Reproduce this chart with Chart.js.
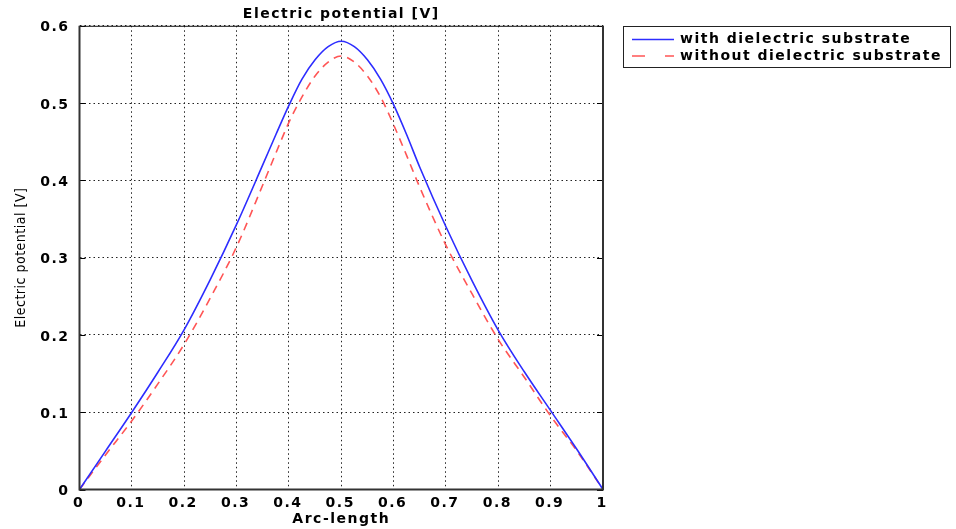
<!DOCTYPE html>
<html lang="en">

<head>
    <meta charset="UTF-8">
    <title>Electric potential</title>
    <style>
        body { margin: 0; background: #fff; overflow: hidden; }
    </style>
</head>

<body>
    <div style="width: 956px; height: 529px;">
        <canvas id="myChart"></canvas>
    </div>

    <script src="https://cdn.jsdelivr.net/npm/chart.js"></script>
    <script>
        // arc-length positions and the two potential curves [V]
        const arcLength = [0, 0.05, 0.1, 0.15, 0.2, 0.25, 0.3, 0.35, 0.375, 0.4, 0.425, 0.45, 0.475, 0.5,
            0.525, 0.55, 0.575, 0.6, 0.625, 0.65, 0.7, 0.75, 0.8, 0.85, 0.9, 0.95, 1];
        const withSubstrate = [0, 0.05, 0.1, 0.152, 0.207, 0.272, 0.343, 0.42, 0.459, 0.497, 0.531, 0.556, 0.573, 0.58,
            0.573, 0.556, 0.531, 0.498, 0.459, 0.417, 0.34, 0.27, 0.206, 0.152, 0.102, 0.052, 0];
        const withoutSubstrate = [0, 0.045, 0.089, 0.137, 0.188, 0.248, 0.314, 0.394, 0.435, 0.475, 0.508, 0.535, 0.553, 0.561,
            0.553, 0.535, 0.508, 0.472, 0.432, 0.391, 0.316, 0.253, 0.194, 0.145, 0.095, 0.05, 0];

        const seriesLabels = ["with dielectric substrate", "without dielectric substrate"];
        const chartTitle = "Electric potential [V]";
        const yTitle = "Electric potential [V]";
        const xTitle = "Arc-length";

        function toPoints(ys) {
            let pts = [];
            for (let i = 0; i < arcLength.length; i++) {
                pts.push({ x: arcLength[i], y: ys[i] });
            }
            return pts;
        }

        const boldFont = { family: "'DejaVu Sans', sans-serif", size: 14, weight: 'bold' };

        // wide spaced text like the original, plus frame, y title and legend box
        const decor = {
            id: 'decor',
            beforeDraw(chart) {
                chart.ctx.letterSpacing = '1.5px';
            },
            afterDraw(chart) {
                const ctx = chart.ctx;
                const a = chart.chartArea;
                const yScale = chart.scales.y;
                ctx.save();

                // small solid ticks inside left/right border
                ctx.strokeStyle = '#000';
                ctx.lineWidth = 1;
                yScale.ticks.forEach(t => {
                    const py = Math.round(yScale.getPixelForValue(t.value)) + 0.5;
                    ctx.beginPath();
                    ctx.moveTo(a.left, py); ctx.lineTo(a.left + 6, py);
                    ctx.moveTo(a.right - 6, py); ctx.lineTo(a.right, py);
                    ctx.stroke();
                });

                // frame
                ctx.strokeStyle = '#111';
                ctx.lineWidth = 1;
                ctx.beginPath();
                ctx.moveTo(a.left, a.top + 0.5); ctx.lineTo(a.right, a.top + 0.5);
                ctx.stroke();
                ctx.strokeStyle = '#333';
                ctx.lineWidth = 2;
                ctx.beginPath();
                ctx.moveTo(a.left, a.top); ctx.lineTo(a.left, a.bottom);
                ctx.lineTo(a.right, a.bottom); ctx.lineTo(a.right, a.top);
                ctx.stroke();

                // y axis title
                ctx.save();
                ctx.translate(21, (a.top + a.bottom) / 2);
                ctx.rotate(-Math.PI / 2);
                ctx.letterSpacing = '0.5px';
                ctx.font = "14px 'DejaVu Sans Condensed', 'DejaVu Sans', sans-serif";
                ctx.fillStyle = '#000';
                ctx.textAlign = 'center';
                ctx.textBaseline = 'middle';
                ctx.fillText(yTitle, 0, 0);
                ctx.restore();

                // legend box
                ctx.strokeStyle = '#222';
                ctx.lineWidth = 1;
                ctx.strokeRect(623.5, 26.5, 327, 41);
                const rows = [39.5, 56];
                chart.data.datasets.forEach((ds, i) => {
                    ctx.strokeStyle = ds.borderColor;
                    ctx.lineWidth = 1.5;
                    ctx.setLineDash(i == 0 ? [] : [13, 20]);
                    ctx.beginPath();
                    ctx.moveTo(632, rows[i]);
                    ctx.lineTo(674, rows[i]);
                    ctx.stroke();
                    ctx.setLineDash([]);
                    ctx.fillStyle = '#000';
                    ctx.font = "bold 14px 'DejaVu Sans', sans-serif";
                    ctx.letterSpacing = '1.5px';
                    ctx.textAlign = 'left';
                    ctx.textBaseline = 'middle';
                    ctx.fillText(ds.label, 680, rows[i]);
                });
                ctx.restore();
            }
        };

        const ctx = document.getElementById("myChart");

        let v_chart = new Chart(ctx, {
            type: 'line',
            data: {
                datasets: [{
                    label: seriesLabels[0],
                    data: toPoints(withSubstrate),
                    borderColor: 'rgb(45,45,255)',
                    borderWidth: 1.6,
                    pointRadius: 0,
                    cubicInterpolationMode: 'monotone'
                }, {
                    label: seriesLabels[1],
                    data: toPoints(withoutSubstrate),
                    borderColor: 'rgb(255,85,85)',
                    borderWidth: 1.6,
                    borderDash: [8, 6],
                    pointRadius: 0,
                    cubicInterpolationMode: 'monotone'
                }]
            },
            options: {
                responsive: true,
                maintainAspectRatio: false,
                animation: false,
                layout: { padding: { left: 0, right: 353, top: 0, bottom: 0 } },
                plugins: {
                    legend: { display: false },
                    tooltip: { enabled: false },
                    title: {
                        display: true,
                        text: chartTitle,
                        fullSize: false,
                        color: '#000',
                        font: boldFont,
                        padding: { top: 6, bottom: 3 }
                    }
                },
                scales: {
                    x: {
                        type: 'linear',
                        min: 0,
                        max: 1,
                        afterFit: s => { s.height = 39.5; },
                        ticks: {
                            stepSize: 0.1,
                            autoSkip: false,
                            maxRotation: 0,
                            color: '#000',
                            font: boldFont,
                            padding: 5,
                            labelOffset: -1,
                            callback: v => String(+v.toFixed(1))
                        },
                        grid: { color: '#222', lineWidth: 1, drawTicks: false },
                        border: { display: false, dash: [1.5, 3] },
                        title: {
                            display: true,
                            text: xTitle,
                            color: '#000',
                            font: boldFont,
                            padding: { top: 0, bottom: 1 }
                        }
                    },
                    y: {
                        min: 0,
                        max: 0.6,
                        afterFit: s => { s.width = 79.5; },
                        ticks: {
                            stepSize: 0.1,
                            color: '#000',
                            font: boldFont,
                            padding: 10,
                            labelOffset: 2,
                            callback: v => String(+v.toFixed(1))
                        },
                        grid: { color: '#222', lineWidth: 1, drawTicks: false },
                        border: { display: false, dash: [1.5, 3] }
                    }
                }
            },
            plugins: [decor]
        });
    </script>

</body>

</html>
